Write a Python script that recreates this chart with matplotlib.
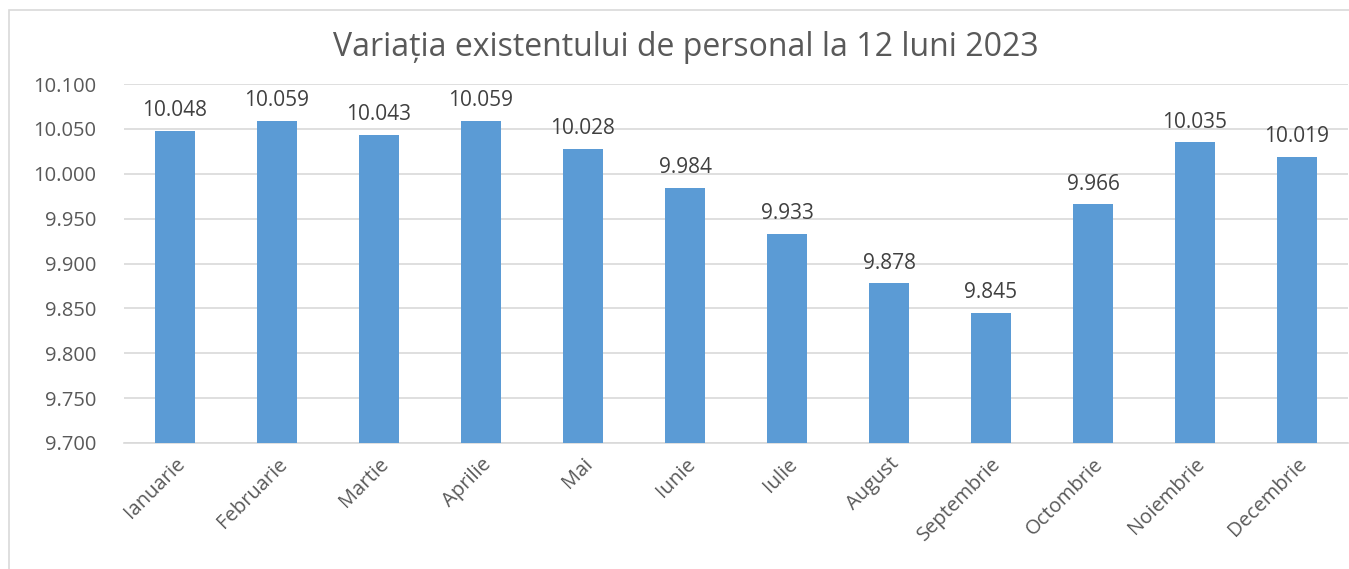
import matplotlib
matplotlib.use("Agg")
import matplotlib.pyplot as plt
from matplotlib.patches import Rectangle

luni = ["Ianuarie", "Februarie", "Martie", "Aprilie", "Mai", "Iunie",
        "Iulie", "August", "Septembrie", "Octombrie", "Noiembrie", "Decembrie"]
personal = [10048, 10059, 10043, 10059, 10028, 9984,
            9933, 9878, 9845, 9966, 10035, 10019]
y_ticks = [9700, 9750, 9800, 9850, 9900, 9950, 10000, 10050, 10100]

TEXT = "#595959"
BAR = "#5b9bd5"
GRID = "#d9d9d9"

plt.rcParams["font.family"] = ["Open Sans", "DejaVu Sans"]


def fmt(v):
    # Romanian thousands separator is a dot
    return f"{v:,}".replace(",", ".")


fig = plt.figure(figsize=(13.49, 5.69), dpi=100)
fig.patches.append(Rectangle((9 / 1349, -0.01), 1.0, 1 - 10 / 569 + 0.01,
                             transform=fig.transFigure, fill=False,
                             edgecolor=GRID, linewidth=1.2))

ax = fig.add_axes([124 / 1349, 1 - 443 / 569, 1224 / 1349, 359 / 569])
x = range(len(luni))
bars = ax.bar(x, [v - 9700 for v in personal], bottom=9700, width=0.4, color=BAR, zorder=3)

for xi, v in zip(x, personal):
    ax.annotate(fmt(v), (xi, v), xytext=(0, 7), textcoords="offset points",
                ha="center", va="bottom", fontsize=15, color="#404040")

ax.set_xlim(-0.5, len(luni) - 0.5)
ax.set_ylim(9700, 10100)
ax.set_yticks(y_ticks)
ax.set_yticklabels([fmt(t) for t in y_ticks])
ax.set_xticks(list(x))
ax.set_xticklabels(luni, rotation=45, ha="right", rotation_mode="anchor")
ax.tick_params(axis="both", length=0, colors=TEXT, labelsize=14.5)
ax.tick_params(axis="x", pad=8)
ax.tick_params(axis="y", pad=20)
ax.grid(axis="y", color=GRID, linewidth=1.2, zorder=0)
for s in ["top", "right", "left"]:
    ax.spines[s].set_visible(False)
ax.spines["bottom"].set_color(GRID)
ax.spines["bottom"].set_linewidth(1.2)

fig.text(686 / 1349, 1 - 48 / 569, "Variația existentului de personal la 12 luni 2023",
         ha="center", va="center", fontsize=23, color=TEXT)

fig.savefig("out.png", dpi=100)
